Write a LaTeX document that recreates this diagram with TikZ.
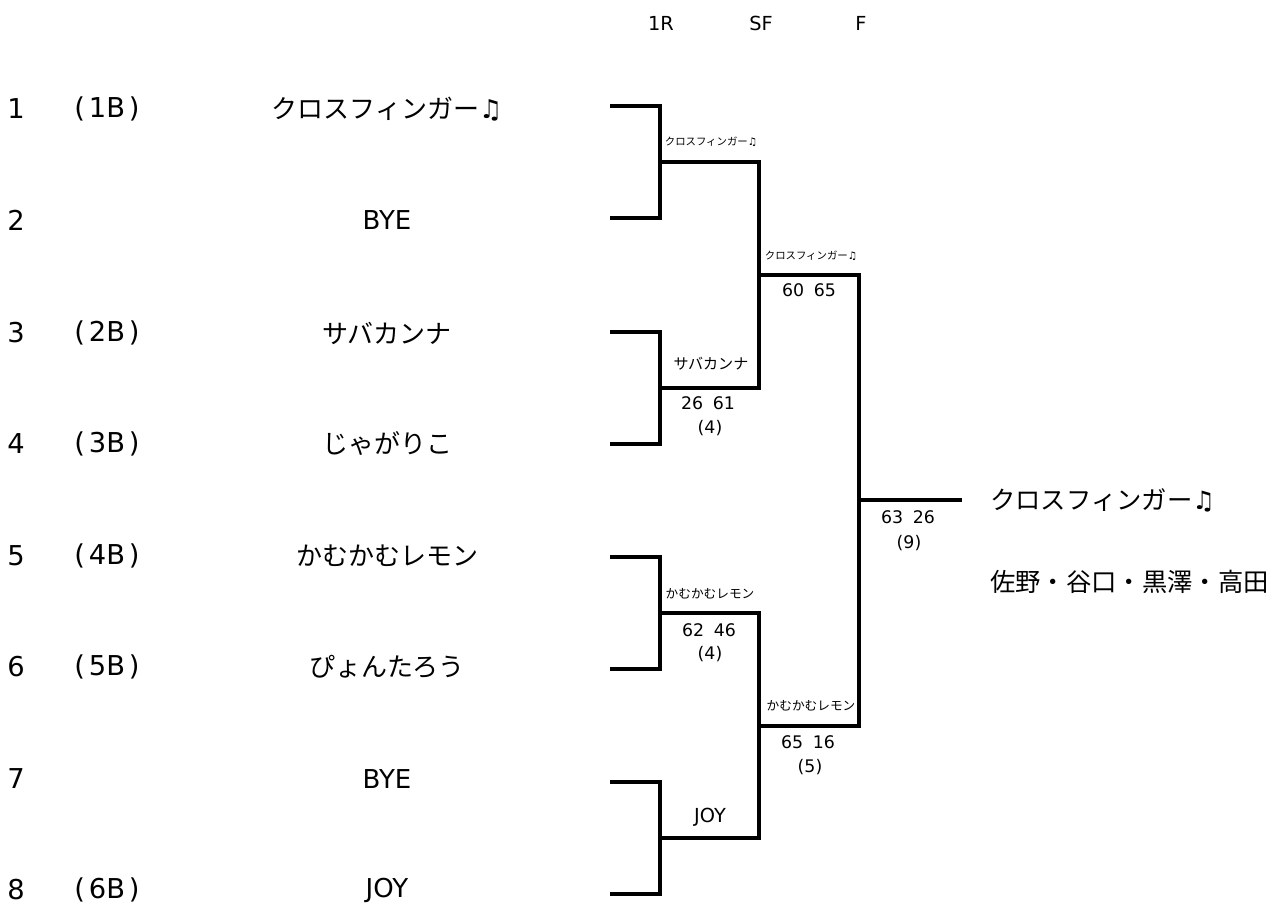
\documentclass[tikz,border=0pt]{standalone}
\usepackage{fontspec}
\setmainfont{Noto Sans CJK JP}
\newfontfamily\notefont{DejaVu Sans}
\newfontfamily\latfont{DejaVu Sans}
\usetikzlibrary{positioning}
\newcommand{\cfname}{クロスフィンガー{\notefont ♫}}
\newcommand{\fsz}[1]{\fontsize{#1}{#1}\selectfont}
\newcommand{\lat}[1]{{\latfont #1}}
\newcommand{\seedtxt}[1]{(\hspace{0.14em}#1\hspace{0.14em})}
\tikzset{
  brk/.style    = {draw=black, line width=2.6pt},
  entry/.style  = {font=\fsz{19.5}, inner sep=0pt},
  lentry/.style = {font=\latfont\fsz{20.5}, inner sep=0pt},
  rnd/.style    = {font=\latfont\fsz{14.5}, inner sep=0pt},
  win/.style    = {font=\fsz{11.3}, inner sep=0pt},
  winlat/.style = {font=\latfont\fsz{14.5}, inner sep=0pt},
  winsm/.style  = {font=\fsz{9.5}, inner sep=0pt},
  wintiny/.style= {font=\fsz{7.8}, inner sep=0pt},
  score/.style  = {font=\latfont\fsz{13}, inner sep=0pt},
  champ/.style  = {font=\fsz{19}, anchor=west, inner sep=0pt},
}
\begin{document}
\begin{tikzpicture}[x=0.75pt, y=-0.75pt]
  \useasboundingbox (0,0) rectangle (1274,912);
  % round headers
  \node[rnd] (r1) at (661,23) {1R};
  \node[rnd] (r2) at (761,23) {SF};
  \node[rnd] (r3) at (861,23) {F};
  % draw entries
  \foreach \n/\team/\yy/\ty in {1/\cfname/106/109, 2/\lat{BYE}/218/220,
      3/サバカンナ/332/333, 4/じゃがりこ/444/444, 5/かむかむレモン/557/556,
      6/ぴょんたろう/669/667, 7/\lat{BYE}/782/779, 8/\lat{JOY}/894/890}{
    \node[lentry] (num\n) at (16,\ty) {\n};
    \node[entry] (team\n) at (387,\ty) {\team};
    \coordinate (e\n) at (610,\yy);
    \coordinate (j\n) at (660,\yy);
  }
  \foreach \n/\seed/\ty in {1/1B/109, 3/2B/333, 4/3B/444,
      5/4B/556, 6/5B/667, 8/6B/890}
    \node[lentry] (seed\n) at (107,\ty) {\seedtxt{\seed}};
  % 1R
  \foreach \a/\b in {1/2, 3/4, 5/6, 7/8}
    \draw[brk] (e\a) -- (j\a) -- (j\b) -- (e\b);
  \coordinate (q1) at (660,162); \coordinate (h1) at (759,162);
  \coordinate (q2) at (660,388); \coordinate (h2) at (759,388);
  \coordinate (q3) at (660,613); \coordinate (h3) at (759,613);
  \coordinate (q4) at (660,838); \coordinate (h4) at (759,838);
  % SF
  \draw[brk] (q1) -- (h1) -- (h2) -- (q2);
  \draw[brk] (q3) -- (h3) -- (h4) -- (q4);
  \coordinate (g1) at (759,275); \coordinate (k1) at (859,275);
  \coordinate (g2) at (759,726); \coordinate (k2) at (859,726);
  % F
  \draw[brk] (g1) -- (k1) -- (k2) -- (g2);
  \coordinate (fin) at (859,500);
  \coordinate (cw) at (962,500);
  \draw[brk] (fin) -- (cw);
  % winners and scores
  \node[wintiny] (w1) at (711,142) {\cfname};
  \node[win]     (w2) at (711,364) {サバカンナ};
  \node[score]   (s2) at (708,403) {26\hspace{0.55em}61};
  \node[score]   (p2) at (710,428) {(4)};
  \node[winsm]   (w3) at (710,594) {かむかむレモン};
  \node[score]   (s3) at (709,630) {62\hspace{0.55em}46};
  \node[score]   (p3) at (710,654) {(4)};
  \node[winlat]  (w4) at (710,817) {JOY};
  \node[wintiny] (w5) at (811,256) {\cfname};
  \node[score]   (s5) at (809,290) {60\hspace{0.55em}65};
  \node[winsm]   (w6) at (811,706) {かむかむレモン};
  \node[score]   (s6) at (808,742) {65\hspace{0.55em}16};
  \node[score]   (p6) at (810,767) {(5)};
  \node[score]   (s7) at (908,517) {63\hspace{0.55em}26};
  \node[score]   (p7) at (909,543) {(9)};
  % champion
  \node[champ] (c1) at (990,500) {\cfname};
  \node[champ] (c2) at (990,582) {佐野・谷口・黒澤・高田};
\end{tikzpicture}
\end{document}
